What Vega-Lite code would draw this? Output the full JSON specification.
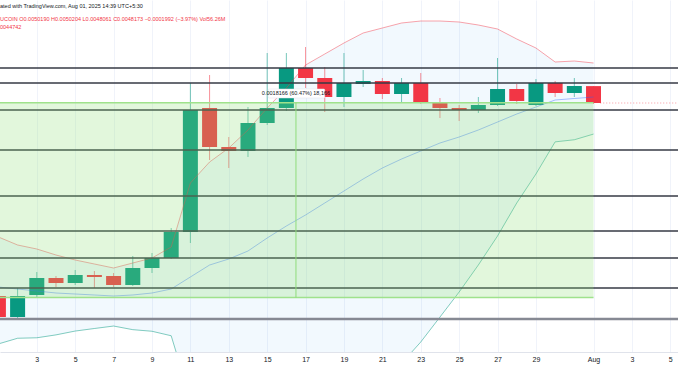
{
  "$schema": "https://vega.github.io/schema/vega-lite/v6.json",
  "width": 678,
  "height": 352,
  "autosize": {"type": "none"},
  "padding": {"left": 0, "top": 0, "right": 0, "bottom": 29},
  "background": "white",
  "title": {
    "text": "ated with TradingView.com, Aug 01, 2025 14:39 UTC+5:30",
    "subtitle": ["UCOIN  O0.0050190  H0.0050204  L0.0048061  C0.0048173  −0.0001992 (−3.97%)  Vol56.26M", "0044742"],
    "anchor": "start",
    "frame": "group",
    "orient": "top",
    "offset": -30,
    "font": "Liberation Sans",
    "fontSize": 5.5,
    "fontWeight": "normal",
    "color": "#131722",
    "subtitleFont": "Liberation Sans",
    "subtitleFontSize": 5.5,
    "subtitleColor": "#F23645",
    "subtitlePadding": 7,
    "subtitleLineHeight": 8
  },
  "datasets": {
    "candles": [
      {"day": 1, "date": "2025-07-01", "open": 0.0030155, "high": 0.0030598, "low": 0.0028311, "close": 0.0028657},
      {"day": 2, "date": "2025-07-02", "open": 0.0028657, "high": 0.0030747, "low": 0.0028449, "close": 0.0030155},
      {"day": 3, "date": "2025-07-03", "open": 0.0030229, "high": 0.0031964, "low": 0.0030082, "close": 0.0031502},
      {"day": 4, "date": "2025-07-04", "open": 0.0031502, "high": 0.0031655, "low": 0.0030821, "close": 0.0031122},
      {"day": 5, "date": "2025-07-05", "open": 0.0031122, "high": 0.0032119, "low": 0.0030971, "close": 0.0031732},
      {"day": 6, "date": "2025-07-06", "open": 0.0031732, "high": 0.0032041, "low": 0.0030747, "close": 0.0031578},
      {"day": 7, "date": "2025-07-07", "open": 0.0031655, "high": 0.0031886, "low": 0.0030821, "close": 0.0030971},
      {"day": 8, "date": "2025-07-08", "open": 0.0030971, "high": 0.0033229, "low": 0.0030896, "close": 0.0032275},
      {"day": 9, "date": "2025-07-09", "open": 0.0032275, "high": 0.0033472, "low": 0.0031886, "close": 0.0033068},
      {"day": 10, "date": "2025-07-10", "open": 0.0033068, "high": 0.0035566, "low": 0.0032988, "close": 0.0035222},
      {"day": 11, "date": "2025-07-11", "open": 0.0035222, "high": 0.0050569, "low": 0.0034294, "close": 0.0047361},
      {"day": 12, "date": "2025-07-12", "open": 0.0047592, "high": 0.0051560, "low": 0.0041949, "close": 0.0043294},
      {"day": 13, "date": "2025-07-13", "open": 0.0043294, "high": 0.0044357, "low": 0.0041142, "close": 0.0042875},
      {"day": 14, "date": "2025-07-14", "open": 0.0042875, "high": 0.0047708, "low": 0.0042256, "close": 0.0045891},
      {"day": 15, "date": "2025-07-15", "open": 0.0045891, "high": 0.0054389, "low": 0.0045668, "close": 0.0047592},
      {"day": 16, "date": "2025-07-16", "open": 0.0047592, "high": 0.0054389, "low": 0.0047247, "close": 0.0052444},
      {"day": 17, "date": "2025-07-17", "open": 0.0052444, "high": 0.0055187, "low": 0.0049959, "close": 0.0051187},
      {"day": 18, "date": "2025-07-18", "open": 0.0051187, "high": 0.0052572, "low": 0.0047132, "close": 0.0048880},
      {"day": 19, "date": "2025-07-19", "open": 0.0048880, "high": 0.0054389, "low": 0.0047708, "close": 0.0050569},
      {"day": 20, "date": "2025-07-20", "open": 0.0050447, "high": 0.0052191, "low": 0.0050081, "close": 0.0050815},
      {"day": 21, "date": "2025-07-21", "open": 0.0050815, "high": 0.0051187, "low": 0.0048643, "close": 0.0049237},
      {"day": 22, "date": "2025-07-22", "open": 0.0049237, "high": 0.0051187, "low": 0.0048173, "close": 0.0050569},
      {"day": 23, "date": "2025-07-23", "open": 0.0050569, "high": 0.0051812, "low": 0.0048056, "close": 0.0048173},
      {"day": 24, "date": "2025-07-24", "open": 0.0048173, "high": 0.0048761, "low": 0.0046450, "close": 0.0047592},
      {"day": 25, "date": "2025-07-25", "open": 0.0047592, "high": 0.0047940, "low": 0.0046114, "close": 0.0047361},
      {"day": 26, "date": "2025-07-26", "open": 0.0047361, "high": 0.0048880, "low": 0.0047018, "close": 0.0047940},
      {"day": 27, "date": "2025-07-27", "open": 0.0047940, "high": 0.0053733, "low": 0.0047824, "close": 0.0049838},
      {"day": 28, "date": "2025-07-28", "open": 0.0049838, "high": 0.0050447, "low": 0.0048056, "close": 0.0048408},
      {"day": 29, "date": "2025-07-29", "open": 0.0047940, "high": 0.0051062, "low": 0.0047824, "close": 0.0050569},
      {"day": 30, "date": "2025-07-30", "open": 0.0050569, "high": 0.0050815, "low": 0.0048880, "close": 0.0049357},
      {"day": 31, "date": "2025-07-31", "open": 0.0049357, "high": 0.0051187, "low": 0.0048880, "close": 0.0050202},
      {"day": 32, "date": "2025-08-01", "open": 0.0050190, "high": 0.0050204, "low": 0.0048061, "close": 0.0048173}
    ],
    "bb": [
      {"day": 1, "upper": 0.0034798, "basis": 0.0030821, "lower": 0.0026844},
      {"day": 2, "upper": 0.0034128, "basis": 0.0030672, "lower": 0.0027216},
      {"day": 3, "upper": 0.0033799, "basis": 0.0030523, "lower": 0.0027247},
      {"day": 4, "upper": 0.0033310, "basis": 0.0030375, "lower": 0.0027440},
      {"day": 5, "upper": 0.0032908, "basis": 0.0030302, "lower": 0.0027696},
      {"day": 6, "upper": 0.0032590, "basis": 0.0030229, "lower": 0.0027868},
      {"day": 7, "upper": 0.0032275, "basis": 0.0030155, "lower": 0.0028035},
      {"day": 8, "upper": 0.0032669, "basis": 0.0030229, "lower": 0.0027789},
      {"day": 9, "upper": 0.0033068, "basis": 0.0030375, "lower": 0.0027682},
      {"day": 10, "upper": 0.0033963, "basis": 0.0030672, "lower": 0.0027381},
      {"day": 11, "upper": 0.0039671, "basis": 0.0031578, "lower": 0.0023485},
      {"day": 12, "upper": 0.0041746, "basis": 0.0032511, "lower": 0.0023276},
      {"day": 13, "upper": 0.0043189, "basis": 0.0032988, "lower": 0.0022787},
      {"day": 14, "upper": 0.0045117, "basis": 0.0033635, "lower": 0.0022153},
      {"day": 15, "upper": 0.0047592, "basis": 0.0034713, "lower": 0.0021834},
      {"day": 16, "upper": 0.0049959, "basis": 0.0035739, "lower": 0.0021519},
      {"day": 17, "upper": 0.0052827, "basis": 0.0036707, "lower": 0.0020587},
      {"day": 18, "upper": 0.0054257, "basis": 0.0037791, "lower": 0.0021325},
      {"day": 19, "upper": 0.0055725, "basis": 0.0038908, "lower": 0.0022091},
      {"day": 20, "upper": 0.0057094, "basis": 0.0040058, "lower": 0.0023022},
      {"day": 21, "upper": 0.0057791, "basis": 0.0041142, "lower": 0.0024493},
      {"day": 22, "upper": 0.0058496, "basis": 0.0042051, "lower": 0.0025606},
      {"day": 23, "upper": 0.0058781, "basis": 0.0042875, "lower": 0.0026969},
      {"day": 24, "upper": 0.0058781, "basis": 0.0043716, "lower": 0.0028651},
      {"day": 25, "upper": 0.0058638, "basis": 0.0044357, "lower": 0.0030449},
      {"day": 26, "upper": 0.0058213, "basis": 0.0045117, "lower": 0.0032511},
      {"day": 27, "upper": 0.0057651, "basis": 0.0046002, "lower": 0.0034882},
      {"day": 28, "upper": 0.0056268, "basis": 0.0046904, "lower": 0.0037791},
      {"day": 29, "upper": 0.0055053, "basis": 0.0047708, "lower": 0.0040547},
      {"day": 30, "upper": 0.0053213, "basis": 0.0048525, "lower": 0.0043837},
      {"day": 31, "upper": 0.0053343, "basis": 0.0048702, "lower": 0.0044061},
      {"day": 32, "upper": 0.0053085, "basis": 0.0048880, "lower": 0.0044675}
    ],
    "levels": [
      {"price": 0.005245},
      {"price": 0.005057},
      {"price": 0.004736},
      {"price": 0.004298},
      {"price": 0.003844},
      {"price": 0.003531},
      {"price": 0.003307},
      {"price": 0.003075}
    ],
    "base": [
      {"price": 0.002852}
    ],
    "measure": [
      {"start": 1, "end": 32, "mid": 16.5, "from": 0.0030041, "to": 0.0048207, "label": "0.0018166 (60.47%) 18,166"}
    ],
    "last": [
      {"from": 32.35, "to": 37, "price": 0.0048173}
    ]
  },
  "layer": [
    {
      "data": {"name": "bb"},
      "mark": {"type": "area", "color": "#2196F3", "opacity": 0.06, "clip": true},
      "encoding": {
        "x": {
          "field": "day", "type": "quantitative",
          "scale": {"domain": [1.083, 36.4], "nice": false, "zero": false, "padding": 0},
          "axis": {
            "title": null,
            "values": [3, 5, 7, 9, 11, 13, 15, 17, 19, 21, 23, 25, 27, 29, 32, 34, 36],
            "labelExpr": "datum.value == 32 ? 'Aug' : (datum.value > 32 ? '' + (datum.value - 31) : '' + datum.value)",
            "labelFont": "Liberation Sans",
            "labelFontSize": 7,
            "labelColor": "#131722",
            "labelPadding": 3,
            "labelFlush": false,
            "labelOverlap": false,
            "ticks": false,
            "domain": true,
            "domainColor": "#e0e3eb",
            "grid": true,
            "gridColor": "#f0f3fa",
            "gridWidth": 1
          }
        },
        "y": {
          "field": "upper", "type": "quantitative",
          "scale": {"type": "log", "domain": [0.0026323, 0.0061856], "nice": false},
          "axis": {"title": null, "labels": false, "ticks": false, "domain": false, "grid": false}
        },
        "y2": {"field": "lower"}
      }
    },
    {
      "data": {"name": "candles"},
      "mark": {"type": "rule", "clip": true, "strokeWidth": 1},
      "encoding": {
        "x": {"field": "day", "type": "quantitative"},
        "y": {"field": "low", "type": "quantitative"},
        "y2": {"field": "high"},
        "color": {"condition": {"test": "datum.close >= datum.open", "value": "#089981"}, "value": "#F23645"},
        "opacity": {"value": 0.55}
      }
    },
    {
      "data": {"name": "candles"},
      "mark": {"type": "bar", "size": 15, "clip": true},
      "encoding": {
        "x": {"field": "day", "type": "quantitative"},
        "y": {"field": "open", "type": "quantitative"},
        "y2": {"field": "close"},
        "color": {"condition": {"test": "datum.close >= datum.open", "value": "#089981"}, "value": "#F23645"}
      }
    },
    {
      "data": {"name": "bb"},
      "mark": {"type": "line", "color": "#F23645", "opacity": 0.45, "strokeWidth": 1, "clip": true},
      "encoding": {
        "x": {"field": "day", "type": "quantitative"},
        "y": {"field": "upper", "type": "quantitative"}
      }
    },
    {
      "data": {"name": "bb"},
      "mark": {"type": "line", "color": "#2962FF", "opacity": 0.4, "strokeWidth": 1, "clip": true},
      "encoding": {
        "x": {"field": "day", "type": "quantitative"},
        "y": {"field": "basis", "type": "quantitative"}
      }
    },
    {
      "data": {"name": "bb"},
      "mark": {"type": "line", "color": "#089981", "opacity": 0.5, "strokeWidth": 1, "clip": true},
      "encoding": {
        "x": {"field": "day", "type": "quantitative"},
        "y": {"field": "lower", "type": "quantitative"}
      }
    },
    {
      "data": {"name": "levels"},
      "mark": {"type": "rule", "color": "#363a45", "strokeWidth": 1.5, "clip": true},
      "encoding": {
        "y": {"field": "price", "type": "quantitative"}
      }
    },
    {
      "data": {"name": "base"},
      "mark": {"type": "rule", "color": "#868993", "strokeWidth": 2.5, "clip": true},
      "encoding": {
        "y": {"field": "price", "type": "quantitative"}
      }
    },
    {
      "data": {"name": "measure"},
      "mark": {"type": "rect", "color": "#8bdf73", "opacity": 0.25, "clip": true},
      "encoding": {
        "x": {"field": "start", "type": "quantitative"},
        "x2": {"field": "end"},
        "y": {"field": "from", "type": "quantitative"},
        "y2": {"field": "to"}
      }
    },
    {
      "data": {"name": "measure"},
      "mark": {"type": "rule", "color": "#9fe28c", "strokeWidth": 1.5, "clip": true},
      "encoding": {
        "x": {"field": "start", "type": "quantitative"},
        "x2": {"field": "end"},
        "y": {"field": "to", "type": "quantitative"}
      }
    },
    {
      "data": {"name": "measure"},
      "mark": {"type": "rule", "color": "#9fe28c", "strokeWidth": 1.5, "clip": true},
      "encoding": {
        "x": {"field": "start", "type": "quantitative"},
        "x2": {"field": "end"},
        "y": {"field": "from", "type": "quantitative"}
      }
    },
    {
      "data": {"name": "measure"},
      "mark": {"type": "rule", "color": "#8fdc7c", "strokeWidth": 1, "clip": true},
      "encoding": {
        "x": {"field": "mid", "type": "quantitative"},
        "y": {"field": "from", "type": "quantitative"},
        "y2": {"field": "to"}
      }
    },
    {
      "data": {"name": "measure"},
      "mark": {"type": "rect", "fill": "white", "stroke": "#e0e3eb", "strokeWidth": 0.5, "cornerRadius": 1},
      "encoding": {
        "x": {"datum": 15.05, "type": "quantitative"},
        "x2": {"datum": 18.0},
        "y": {"datum": 0.0048761, "type": "quantitative"},
        "y2": {"datum": 0.0049838}
      }
    },
    {
      "data": {"name": "measure"},
      "mark": {"type": "text", "font": "Liberation Sans", "fontSize": 5.5, "color": "#131722", "dy": -9.5, "align": "center", "baseline": "middle"},
      "encoding": {
        "x": {"field": "mid", "type": "quantitative"},
        "y": {"field": "to", "type": "quantitative"},
        "text": {"field": "label"}
      }
    },
    {
      "data": {"name": "last"},
      "mark": {"type": "rule", "color": "#F23645", "opacity": 0.5, "strokeWidth": 1, "strokeDash": [1, 2], "clip": true},
      "encoding": {
        "x": {"field": "from", "type": "quantitative"},
        "x2": {"field": "to"},
        "y": {"field": "price", "type": "quantitative"}
      }
    }
  ],
  "config": {
    "view": {"stroke": null}
  }
}
